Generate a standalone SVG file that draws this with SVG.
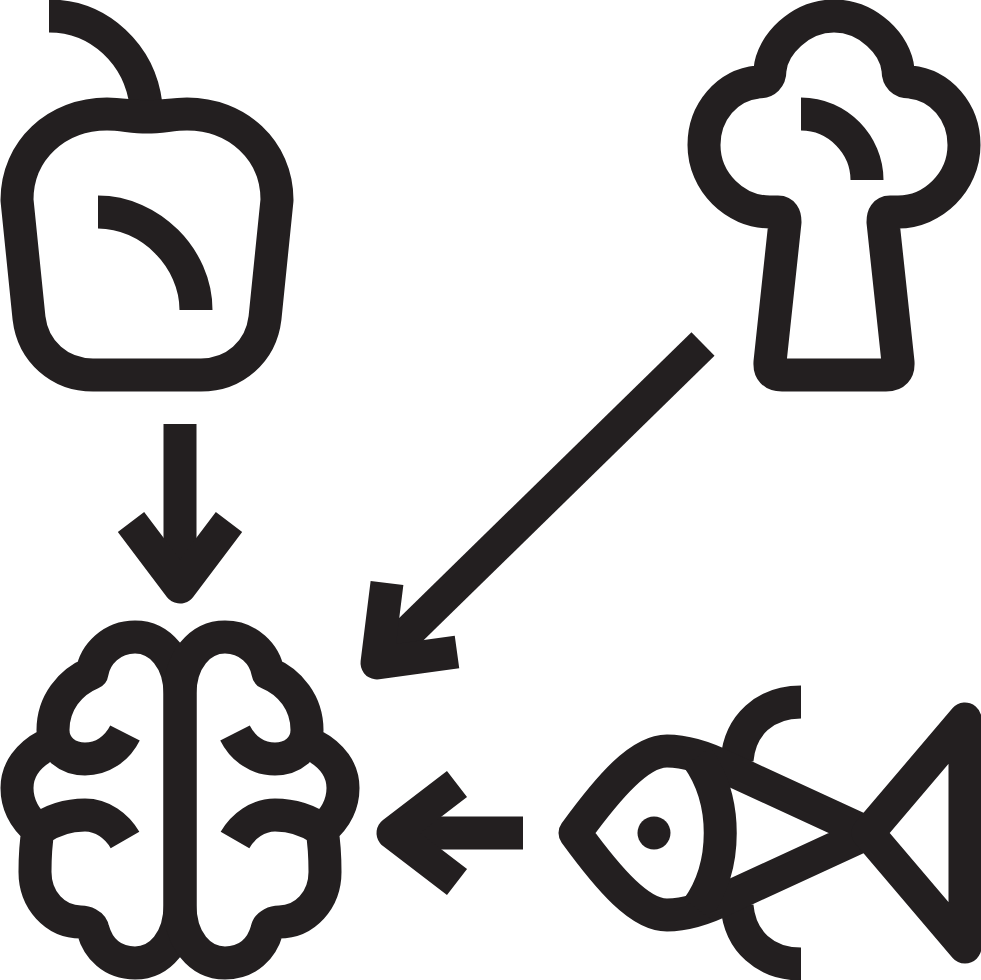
<svg xmlns="http://www.w3.org/2000/svg" width="981" height="980" viewBox="0 0 981 980">
<style>
.s{fill:none;stroke:#231f20;stroke-width:33;stroke-linejoin:round;stroke-linecap:butt}
.d{fill:#231f20}
</style>
<rect width="981" height="980" fill="#fff"/>
<g id="apple">
<path class="s" d="M49 16C100 16 140 55 146 105"/>
<path class="s" d="M147 117C132 117 122 114 107 114C57 114 17 150 17 200L29 318C33 352 60 375 93 375H201C234 375 261 352 265 318L277 200C277 150 237 114 187 114C172 114 162 117 147 117Z"/>
<path class="s" d="M98 212C150 212 196 258 196 310"/>
</g>
<g id="broccoli">
<path class="s" d="M834 16C800 16 772 45 770 70Q770 82 758 82C727 85 704 112 704 145C704 182 735 212 770 212H778Q785 212 785 222L770 362Q769 375 782 375H886Q899 375 898 362L883 222Q883 212 890 212H898C933 212 964 182 964 145C964 112 941 85 910 82Q898 82 898 70C896 45 868 16 834 16Z"/>
<path class="s" d="M801 114C838 114 867 145 867 180"/>
</g>
<g id="brain">
<path id="hemi" class="s" d="M180 694C180 660 160 637 135 637C112 637 95 654 92 673C70 682 53 703 53 730C53 748 68 759 85 759C102 759 117 749 125 733M47 745C28 755 17 770 17 788C17 805 24 818 38 830M125 840C117 826 102 815 85 815C66 815 52 820 38 830C36 842 35 855 35 872C35 900 55 922 81 922C85 922 92 924 93 930C98 948 112 963 135 963C160 963 180 940 180 905V694"/>
<use href="#hemi" transform="matrix(-1 0 0 1 360 0)"/>
</g>
<g id="fish">
<path class="s" d="M801 702C765 702 740 725 737 760"/>
<path class="s" d="M801 964C765 964 740 941 737 906"/>
<path class="s" d="M868 833L727 768C705 757 685 751 667 751C640 751 610 785 575 833C610 881 640 915 667 915C685 915 705 909 727 898L868 833"/>
<path class="s" d="M868 833L965 719V947Z"/>
<path class="s" d="M697 757C728 800 728 866 697 909"/>
<circle class="d" cx="654" cy="833" r="16.5"/>
</g>
<g id="connectors">
<path class="s" d="M180 424V586"/>
<path class="s" d="M131 522L180 587L229 522"/>
<path class="s" d="M703 344L390 650"/>
<path class="s" d="M387 583L377 663L457 652"/>
<path class="s" d="M523 833H395"/>
<path class="s" d="M457 784L393 833L457 882"/>
</g>
</svg>
